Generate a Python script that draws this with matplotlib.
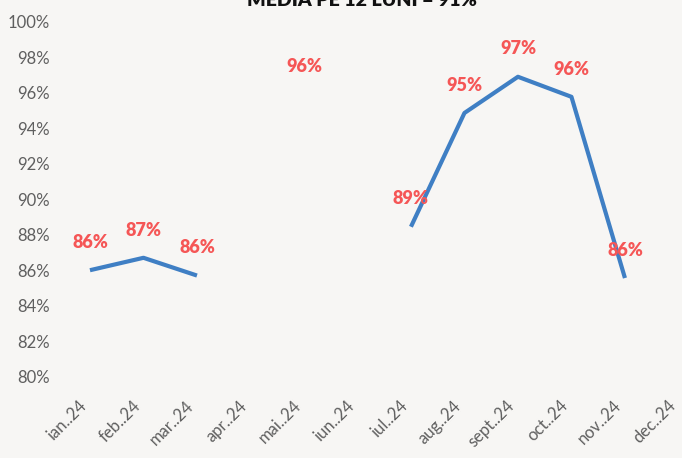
import numpy as np
import matplotlib
matplotlib.use('Agg')
import matplotlib.pyplot as plt

plt.rcParams['font.family'] = ['Lato', 'DejaVu Sans']

months = ['ian..24', 'feb..24', 'mar..24', 'apr..24', 'mai..24', 'iun..24',
          'iul..24', 'aug..24', 'sept..24', 'oct..24', 'nov..24', 'dec..24']
values = [86.0, 86.7, 85.7, np.nan, 95.9, np.nan,
          88.45, 94.86, 96.9, 95.77, 85.56, np.nan]
point_labels = ['86%', '87%', '86%', '', '96%', '', '89%', '95%', '97%', '96%', '86%', '']
yticks = [80, 82, 84, 86, 88, 90, 92, 94, 96, 98, 100]
title = 'MEDIA PE 12 LUNI = 91%'

bg = '#f7f6f4'
fig = plt.figure(figsize=(6.82, 4.58), dpi=100, facecolor=bg)
ax = fig.add_axes([0.0927, 0.1775, 0.9413, 0.775])
ax.set_facecolor(bg)

x = np.arange(len(months))
ax.plot(x, values, color='#3f7fc4', lw=3.0, solid_capstyle='butt')

for xi, v, lab in zip(x, values, point_labels):
    if lab:
        ax.annotate(lab, (xi, v), xytext=(0, 20), textcoords='offset points',
                    ha='center', va='center', color='#f55656',
                    fontsize=13, fontweight='heavy')

ax.set_xlim(-0.5, len(months) - 0.5)
ax.set_ylim(80, 100)
ax.set_yticks(yticks)
ax.set_yticklabels([f'{t}%' for t in yticks])
ax.set_xticks(x)
ax.set_xticklabels(months, rotation=45, ha='right')
ax.tick_params(axis='y', length=0, pad=9.5, labelsize=12, labelcolor='#5f5f5f')
ax.tick_params(axis='x', length=0, pad=15, labelsize=12, labelcolor='#5f5f5f')
for s in ax.spines.values():
    s.set_visible(False)

# title is cut off at the top of the scan
fig.text(362 / 682, 0.987, title, ha='center', va='baseline',
         fontsize=14, fontweight='heavy', color='#111111')

fig.savefig('out.png', dpi=100, facecolor=bg)
